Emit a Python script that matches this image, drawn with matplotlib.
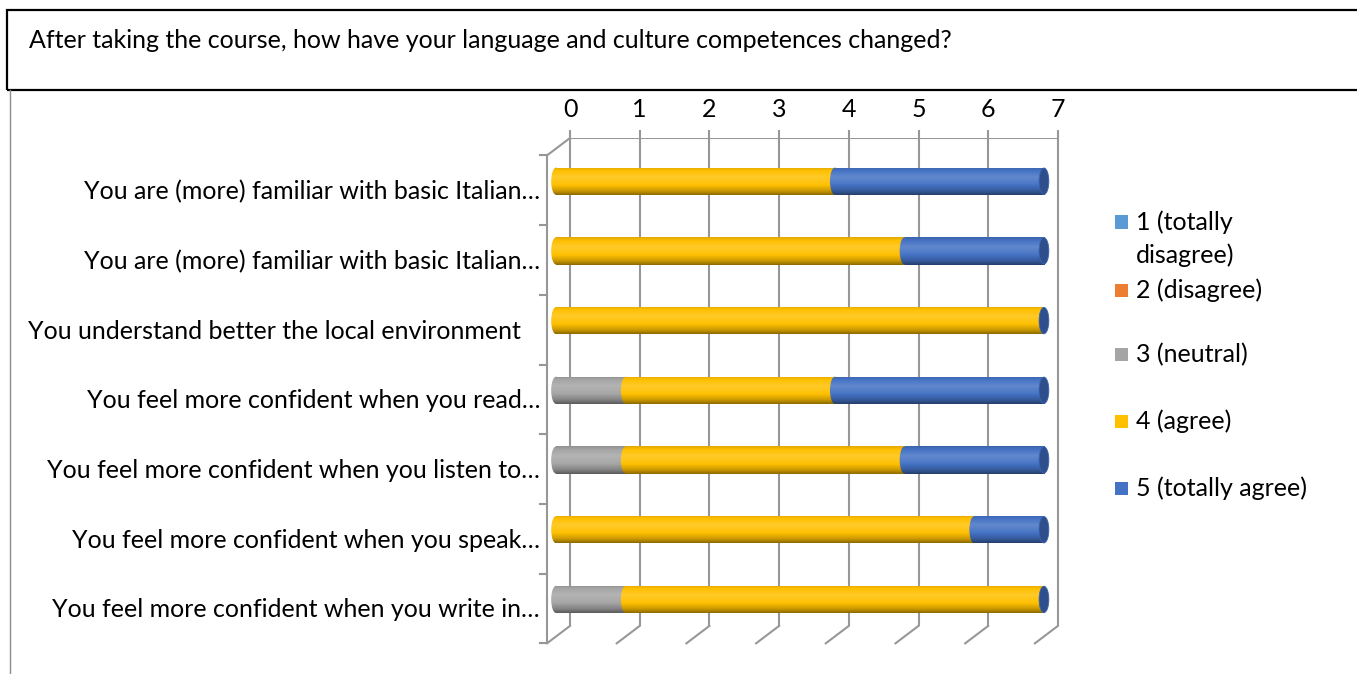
"""Stacked 3D-style bar chart of course survey answers (language and culture competences)."""

import matplotlib

matplotlib.use("Agg")
import matplotlib.pyplot as plt
import numpy as np
from matplotlib.colors import to_rgb
from matplotlib.patches import Ellipse, Rectangle

plt.rcParams["font.family"] = ["Lato", "DejaVu Sans"]

TITLE = "After taking the course, how have your language and culture competences changed?"

QUESTIONS = [
    "You are (more) familiar with basic Italian…",
    "You are (more) familiar with basic Italian…",
    "You understand better the local environment   ",
    "You feel more confident when you read…",
    "You feel more confident when you listen to…",
    "You feel more confident when you speak…",
    "You feel more confident when you write in…",
]

SERIES = ["1 (totally\ndisagree)", "2 (disagree)", "3 (neutral)", "4 (agree)", "5 (totally agree)"]
COLORS = ["#5B9BD5", "#ED7D31", "#A5A5A5", "#FFC000", "#4472C4"]

TOTALLY_DISAGREE = [0, 0, 0, 0, 0, 0, 0]
DISAGREE = [0, 0, 0, 0, 0, 0, 0]
NEUTRAL = [0, 0, 0, 1, 1, 0, 1]
AGREE = [4, 5, 7, 3, 4, 6, 6]
TOTALLY_AGREE = [3, 2, 0, 3, 2, 1, 0]

X_TICKS = list(range(8))

FRAME = "#979797"
FS = 18
DEPTH_X, DEPTH_Y = -0.33, 0.25      # floor depth in axis units
BAR_DX, BAR_DY = -0.2, 0.12         # bar position inside the depth
BAR_H = 0.39
CAP_W = 0.14


def shaded(color, n=64):
    """Vertical cylinder shading for one base colour."""
    base = np.array(to_rgb(color))
    t = np.linspace(0, 1, n)
    k = np.interp(t, [0.0, 0.12, 0.35, 0.6, 0.85, 1.0], [0.88, 1.0, 1.16, 1.04, 0.8, 0.55])
    rows = []
    for f in k:
        if f >= 1:
            rows.append(base + (1 - base) * (f - 1))
        else:
            rows.append(base * f)
    return np.clip(np.array(rows), 0, 1).reshape(n, 1, 3)


def draw_segment(ax, x0, x1, yc, color):
    img = shaded(color)
    extent = (x0, x1, yc + BAR_H / 2, yc - BAR_H / 2)
    rect = Rectangle((x0, yc - BAR_H / 2), x1 - x0, BAR_H, transform=ax.transData)
    im = ax.imshow(img, extent=extent, aspect="auto", interpolation="bilinear", zorder=3)
    im.set_clip_path(rect)
    # rounded left end of the segment
    ell = Ellipse((x0, yc), CAP_W, BAR_H, transform=ax.transData)
    im2 = ax.imshow(img, extent=(x0 - CAP_W, x0 + CAP_W, yc + BAR_H / 2, yc - BAR_H / 2),
                    aspect="auto", interpolation="bilinear", zorder=3)
    im2.set_clip_path(ell)


def main():
    fig = plt.figure(figsize=(13.57, 6.74), dpi=100)
    W, H = 1357, 674

    # title box
    fig.patches.append(Rectangle((7 / W, 1 - 90 / H), 1.0, 80 / H, transform=fig.transFigure,
                                 fill=False, edgecolor="black", linewidth=1.6))
    fig.text(29 / W, 1 - 40 / H, TITLE, fontsize=FS, ha="left", va="center")
    fig.lines.append(plt.Line2D([10 / W, 10 / W], [0, 1 - 90 / H], transform=fig.transFigure,
                                color="#8C8C8C", linewidth=1.0))

    # plot area: x in answer counts, y in category rows (0 at back top)
    px = 69.7
    x_left, x_right = (540 - 570) / px, (1070 - 570) / px
    y_top, y_bot = 0.0, (668 - 138) / px
    ax = fig.add_axes([540 / W, 1 - 668 / H, 530 / W, 530 / H])
    ax.set_xlim(x_left, x_right)
    ax.set_ylim(y_bot, y_top)
    for s in ax.spines.values():
        s.set_visible(False)
    ax.set_yticks([])
    ax.xaxis.tick_top()
    ax.set_xticks(X_TICKS)
    ax.set_xticklabels([str(v) for v in X_TICKS], fontsize=FS)
    ax.tick_params(axis="x", direction="out", length=6, width=1.5, color=FRAME, pad=6)

    n = len(QUESTIONS)
    # back wall grid and floor lines
    ax.vlines(X_TICKS, 0, n, color=FRAME, linewidth=1.5, zorder=1)
    ax.hlines(0, 0, X_TICKS[-1], color=FRAME, linewidth=1.5, zorder=1)
    for v in X_TICKS:
        ax.plot([v, v + DEPTH_X], [n, n + DEPTH_Y], color=FRAME, linewidth=1.5, zorder=1,
                clip_on=False)
    # left wall front edge with category ticks
    ax.plot([0, DEPTH_X], [0, DEPTH_Y], color=FRAME, linewidth=1.5, clip_on=False)
    ax.plot([DEPTH_X, DEPTH_X], [DEPTH_Y, n + DEPTH_Y], color=FRAME, linewidth=1.5, clip_on=False)
    for k in range(n + 1):
        ax.plot([DEPTH_X, DEPTH_X - 0.1], [k + DEPTH_Y, k + DEPTH_Y], color=FRAME,
                linewidth=1.5, clip_on=False)

    # stacked cylinders
    data = [TOTALLY_DISAGREE, DISAGREE, NEUTRAL, AGREE, TOTALLY_AGREE]
    for i in range(n):
        yc = i + 0.5 + BAR_DY
        left = 0
        for values, color in zip(data, COLORS):
            v = values[i]
            if v > 0:
                draw_segment(ax, left + BAR_DX, left + v + BAR_DX, yc, color)
            left += v
        cap = Ellipse((left + BAR_DX, yc), CAP_W, BAR_H * 0.97, facecolor="#2E4F8C",
                      edgecolor="#3A63AE", linewidth=0.6, zorder=4)
        ax.add_patch(cap)
        ax.text(DEPTH_X - 0.1, i + 0.77, QUESTIONS[i], fontsize=FS, ha="right", va="center",
                clip_on=False)

    # legend
    legend_y = [222, 290, 355, 421, 488]
    for label, color, yy in zip(SERIES, COLORS, legend_y):
        fig.patches.append(Rectangle((1115 / W, 1 - (yy + 6.5) / H), 13 / W, 13 / H,
                                     transform=fig.transFigure, facecolor=color, edgecolor="none"))
        lines = label.split("\n")
        for j, line in enumerate(lines):
            fig.text(1136 / W, 1 - (yy + 33 * j) / H, line, fontsize=FS, ha="left", va="center")

    fig.savefig("out.png", dpi=100)
    plt.close(fig)


if __name__ == "__main__":
    main()
